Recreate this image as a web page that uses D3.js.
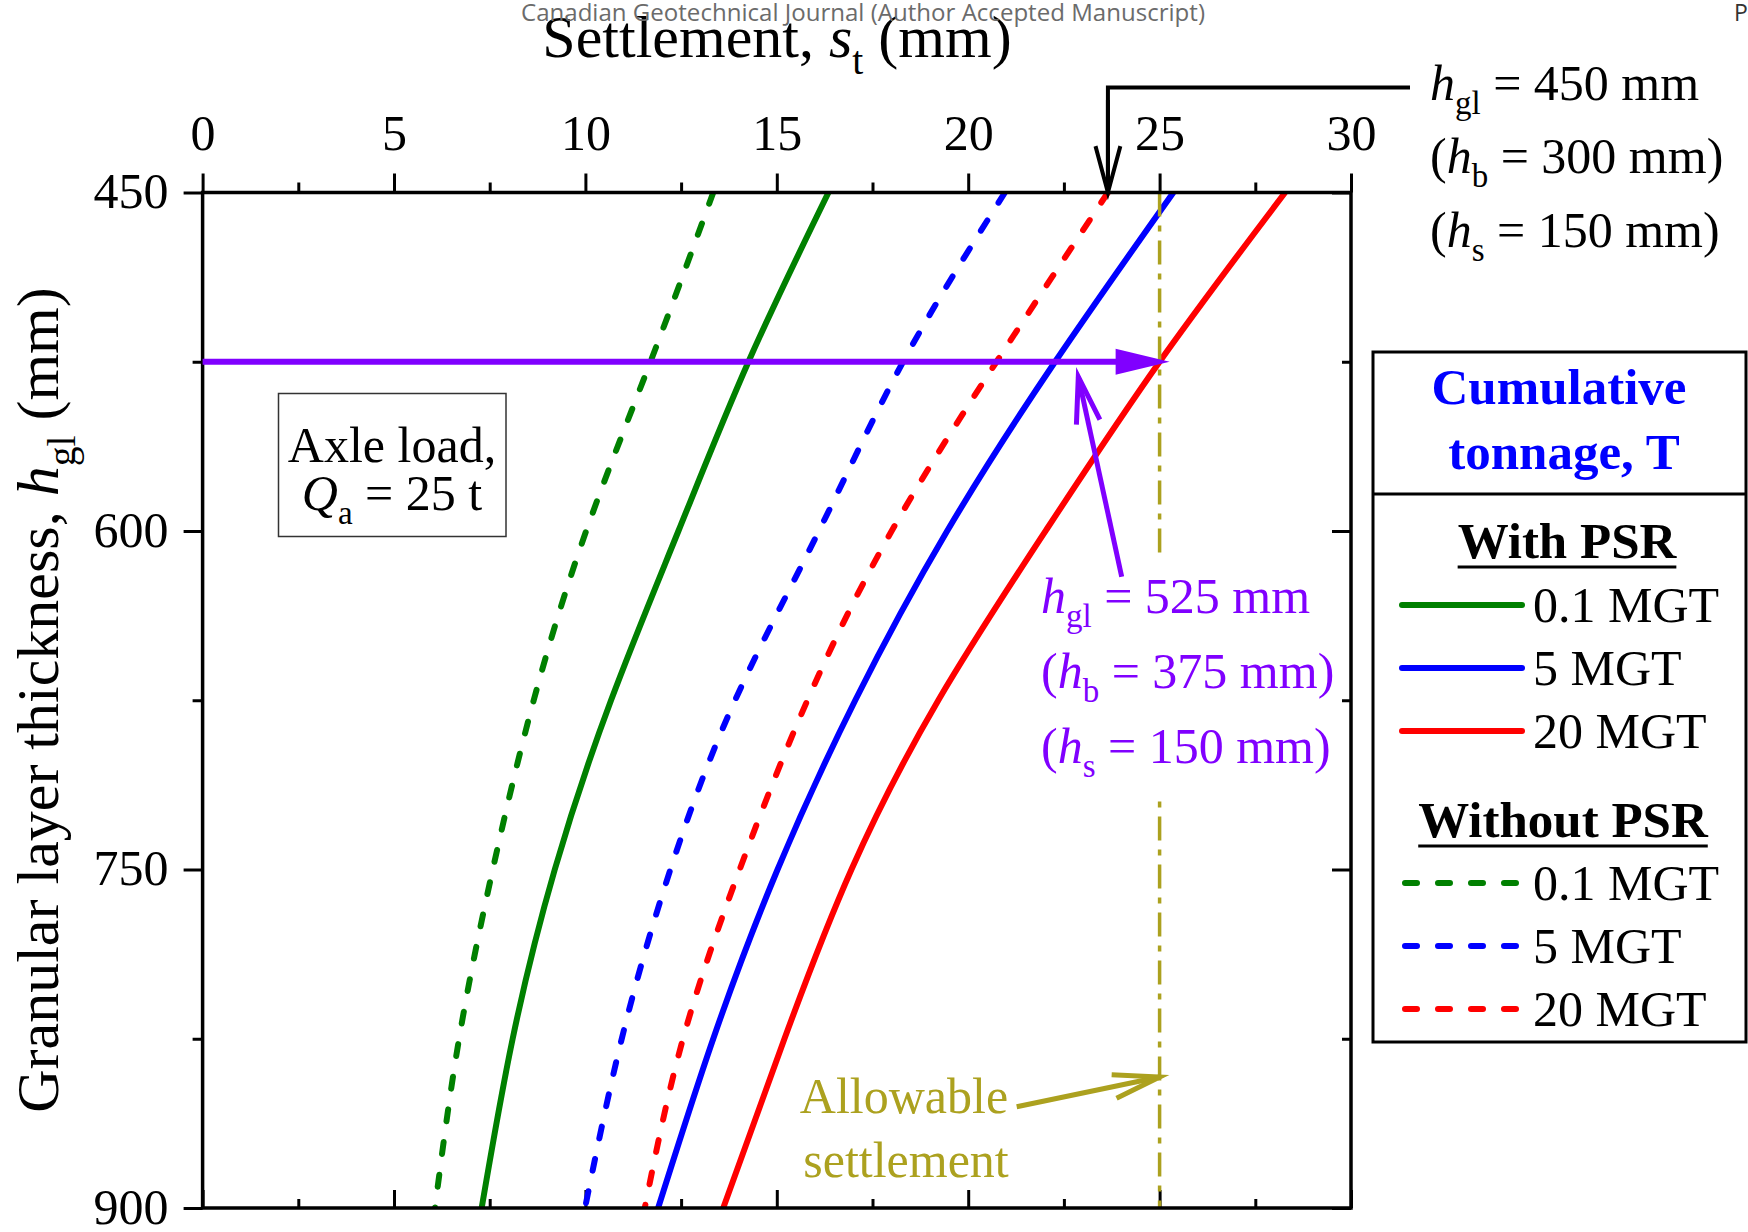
<!DOCTYPE html>
<html>
<head>
<meta charset="utf-8">
<script src="https://cdn.jsdelivr.net/npm/d3@7"></script>
<style>
  html, body { margin: 0; padding: 0; background: #fff; }
  svg { display: block; }
  text { font-family: "Liberation Serif", "Times New Roman", serif; white-space: pre; }
</style>
</head>
<body>
<script>
// Granular layer thickness h_gl (mm) at which settlements are tabulated
const thickness = [450, 525, 600, 675, 750, 825, 900];

// Total settlement s_t (mm) — with PSR
const withPSR01 = [16.35, 14.26, 12.43, 10.67, 9.20, 8.10, 7.29];
const withPSR5  = [25.36, 22.27, 19.45, 17.05, 15.02, 13.34, 11.90];
const withPSR20 = [28.28, 25.00, 22.02, 19.22, 16.95, 15.20, 13.60];

// Total settlement s_t (mm) — without PSR
const withoutPSR01 = [13.34, 11.70, 10.02, 8.65, 7.58, 6.70, 6.07];
const withoutPSR5  = [20.96, 18.30, 16.10, 13.91, 12.22, 10.95, 9.99];
const withoutPSR20 = [23.65, 20.74, 18.00, 15.80, 14.03, 12.55, 11.55];

const tonnageLabels = ["0.1 MGT", "5 MGT", "20 MGT"];

// Axis ticks
const xTicks = [0, 5, 10, 15, 20, 25, 30];
const xMinorTicks = [2.5, 7.5, 12.5, 17.5, 22.5, 27.5];
const yTicks = [450, 600, 750, 900];
const yMinorTicks = [525, 675, 825];

// Design values used by the annotations
const allowableSettlement = 25;     // mm
const designThickness = 525;        // mm
const initialThickness = 450;       // mm
const initialSettlement = 23.65;    // mm, 20 MGT without PSR at 450 mm

const W = 1748, H = 1232;
const plot = { left: 202.6, right: 1351, top: 192.5, bottom: 1208 };

const GREEN = "#008000", BLUE = "#0000ff", RED = "#ff0000";
const PURPLE = "#8000ff", OLIVE = "#aca11f";

const svg = d3.select("body").append("svg").attr("width", W).attr("height", H);

const x = d3.scaleLinear().domain([0, 30]).range([plot.left, plot.right]);
const y = d3.scaleLinear().domain([450, 900]).range([plot.top, plot.bottom]);

// Rich text helper: parts = [{t, i (italic), s (subscript)}]
function rich(g, xPos, yPos, parts, size, opts = {}) {
  const t = g.append("text")
    .attr("x", xPos).attr("y", yPos)
    .attr("font-size", size)
    .attr("fill", opts.fill || "#000")
    .attr("text-anchor", opts.anchor || "start");
  if (opts.transform) t.attr("transform", opts.transform);
  const shift = size * 0.28;
  let down = false;
  parts.forEach(p => {
    const ts = t.append("tspan").text(p.t);
    if (p.i) ts.attr("font-style", "italic");
    if (p.s) {
      ts.attr("font-size", size * 0.66);
      if (!down) { ts.attr("dy", shift); down = true; }
    } else if (down) {
      ts.attr("dy", -shift); down = false;
    }
  });
  return t;
}

// Open arrowhead + shaft from (x1,y1) to tip (x2,y2)
function openArrow(g, x1, y1, x2, y2, color, width, len = 48, angDeg = 14.5) {
  g.append("line")
    .attr("x1", x1).attr("y1", y1).attr("x2", x2).attr("y2", y2)
    .attr("stroke", color).attr("stroke-width", width);
  const a = Math.atan2(y1 - y2, x1 - x2);
  const r = angDeg * Math.PI / 180;
  const w1 = [x2 + len * Math.cos(a + r), y2 + len * Math.sin(a + r)];
  const w2 = [x2 + len * Math.cos(a - r), y2 + len * Math.sin(a - r)];
  g.append("path")
    .attr("d", `M${w1[0]},${w1[1]}L${x2},${y2}L${w2[0]},${w2[1]}`)
    .attr("fill", "none").attr("stroke", color).attr("stroke-width", width)
    .attr("stroke-linejoin", "miter");
}

// Axes
function styleAxis(g, size) {
  g.select(".domain").remove();
  g.attr("font-family", "'Liberation Serif', 'Times New Roman', serif").attr("font-size", size);
  g.selectAll(".tick line").attr("stroke", "#000").attr("stroke-width", 3);
  g.selectAll(".tick text").attr("fill", "#000");
}

const axTop = svg.append("g").attr("transform", `translate(0,${plot.top})`)
  .call(d3.axisTop(x).tickValues(xTicks).tickSize(19).tickPadding(23.5).tickFormat(d3.format("d")));
styleAxis(axTop, 50);
const axTopMinor = svg.append("g").attr("transform", `translate(0,${plot.top})`)
  .call(d3.axisTop(x).tickValues(xMinorTicks).tickSize(10).tickFormat(""));
styleAxis(axTopMinor, 50);

const axBottom = svg.append("g").attr("transform", `translate(0,${plot.bottom})`)
  .call(d3.axisBottom(x).tickValues(xTicks).tickSize(-18).tickFormat(""));
styleAxis(axBottom, 50);
const axBottomMinor = svg.append("g").attr("transform", `translate(0,${plot.bottom})`)
  .call(d3.axisBottom(x).tickValues(xMinorTicks).tickSize(-9).tickFormat(""));
styleAxis(axBottomMinor, 50);

const axLeft = svg.append("g").attr("transform", `translate(${plot.left},0)`)
  .call(d3.axisLeft(y).tickValues(yTicks).tickSize(19).tickPadding(15).tickFormat(d3.format("d")));
styleAxis(axLeft, 50);
axLeft.selectAll(".tick text").attr("dy", "0.3em");
const axLeftMinor = svg.append("g").attr("transform", `translate(${plot.left},0)`)
  .call(d3.axisLeft(y).tickValues(yMinorTicks).tickSize(10).tickFormat(""));
styleAxis(axLeftMinor, 50);

const axRight = svg.append("g").attr("transform", `translate(${plot.right},0)`)
  .call(d3.axisRight(y).tickValues(yTicks).tickSize(-19).tickFormat(""));
styleAxis(axRight, 50);
const axRightMinor = svg.append("g").attr("transform", `translate(${plot.right},0)`)
  .call(d3.axisRight(y).tickValues(yMinorTicks).tickSize(-9).tickFormat(""));
styleAxis(axRightMinor, 50);

// Axis titles
rich(svg, 777, 57, [{ t: "Settlement, " }, { t: "s", i: true }, { t: "t", s: true }, { t: " (mm)" }], 60, { anchor: "middle" });
rich(svg, 0, 0, [{ t: "Granular layer thickness, " }, { t: "h", i: true }, { t: "gl", s: true }, { t: " (mm)" }], 60,
  { anchor: "middle", transform: "translate(58,700) rotate(-90)" });

// Manuscript header line, printed over the page
svg.append("text")
  .attr("x", 521).attr("y", 21)
  .attr("textLength", 684).attr("lengthAdjust", "spacingAndGlyphs")
  .style("font-family", "'Open Sans', 'DejaVu Sans', sans-serif")
  .attr("font-size", 23).attr("fill", "#6b6b6b")
  .text("Canadian Geotechnical Journal (Author Accepted Manuscript)");
svg.append("text")
  .attr("x", 1734).attr("y", 21)
  .style("font-family", "'Open Sans', 'DejaVu Sans', sans-serif")
  .attr("font-size", 23).attr("fill", "#333")
  .text("P");

// Curves
const series = [
  { values: withPSR01, color: GREEN, dashed: false },
  { values: withPSR5, color: BLUE, dashed: false },
  { values: withPSR20, color: RED, dashed: false },
  { values: withoutPSR01, color: GREEN, dashed: true },
  { values: withoutPSR5, color: BLUE, dashed: true },
  { values: withoutPSR20, color: RED, dashed: true }
];

svg.append("clipPath").attr("id", "plotClip").append("rect")
  .attr("x", plot.left).attr("y", plot.top)
  .attr("width", plot.right - plot.left).attr("height", plot.bottom - plot.top);

const line = d3.line()
  .x(d => x(d[1]))
  .y(d => y(d[0]))
  .curve(d3.curveNatural);

const curves = svg.append("g").attr("clip-path", "url(#plotClip)");
series.forEach(s => {
  curves.append("path")
    .attr("d", line(thickness.map((h, i) => [h, s.values[i]])))
    .attr("fill", "none")
    .attr("stroke", s.color)
    .attr("stroke-width", 6)
    .attr("stroke-linecap", s.dashed ? "round" : "butt")
    .attr("stroke-dasharray", s.dashed ? "12,21" : null);
});

// Allowable settlement line (dash-dot)
svg.append("line")
  .attr("x1", x(allowableSettlement)).attr("x2", x(allowableSettlement))
  .attr("y1", y(450)).attr("y2", y(900))
  .attr("stroke", OLIVE).attr("stroke-width", 3.5)
  .attr("stroke-dasharray", "24,9,6,9");
// gap behind the design-thickness note
svg.append("rect")
  .attr("x", x(allowableSettlement) - 5).attr("y", 555)
  .attr("width", 10).attr("height", 240).attr("fill", "#fff");

// Frame
svg.append("rect")
  .attr("x", plot.left).attr("y", plot.top)
  .attr("width", plot.right - plot.left).attr("height", plot.bottom - plot.top)
  .attr("fill", "none").attr("stroke", "#000").attr("stroke-width", 3.5);

// Design-thickness arrow at h_gl = 525 mm
const ay = y(designThickness);
const tipX = x(allowableSettlement) + 10;
svg.append("line")
  .attr("x1", x(0)).attr("x2", tipX - 50).attr("y1", ay).attr("y2", ay)
  .attr("stroke", PURPLE).attr("stroke-width", 6);
svg.append("path")
  .attr("d", `M${tipX - 54},${ay - 13}L${tipX},${ay}L${tipX - 54},${ay + 13}Z`)
  .attr("fill", PURPLE);

// Note for the design thickness
const note = svg.append("g");
rich(note, 1041, 613, [{ t: "h", i: true }, { t: "gl", s: true }, { t: " = 525 mm" }], 50, { fill: PURPLE });
rich(note, 1041, 688, [{ t: "(" }, { t: "h", i: true }, { t: "b", s: true }, { t: " = 375 mm)" }], 50, { fill: PURPLE });
rich(note, 1041, 763, [{ t: "(" }, { t: "h", i: true }, { t: "s", s: true }, { t: " = 150 mm)" }], 50, { fill: PURPLE });
openArrow(svg, 1121.7, 576.7, 1078.3, 376.7, PURPLE, 5);

// Initial-thickness arrow at h_gl = 450 mm
const ix = x(initialSettlement);
svg.append("path")
  .attr("d", `M1410,87.5L${ix},87.5L${ix},${y(initialThickness)}`)
  .attr("fill", "none").attr("stroke", "#000").attr("stroke-width", 4)
  .attr("stroke-linejoin", "miter");
openArrow(svg, ix, 100, ix, y(initialThickness), "#000", 4, 48, 15);
rich(svg, 1430, 100, [{ t: "h", i: true }, { t: "gl", s: true }, { t: " = 450 mm" }], 50);
rich(svg, 1430, 173, [{ t: "(" }, { t: "h", i: true }, { t: "b", s: true }, { t: " = 300 mm)" }], 50);
rich(svg, 1430, 247, [{ t: "(" }, { t: "h", i: true }, { t: "s", s: true }, { t: " = 150 mm)" }], 50);

// Allowable settlement note
svg.append("text").attr("x", 904).attr("y", 1113).attr("text-anchor", "middle")
  .attr("font-size", 50).attr("fill", OLIVE).text("Allowable");
svg.append("text").attr("x", 906).attr("y", 1177).attr("text-anchor", "middle")
  .attr("font-size", 50).attr("fill", OLIVE).text("settlement");
openArrow(svg, 1016.7, 1106.7, x(allowableSettlement), 1077, OLIVE, 5);

// Axle load box
svg.append("rect").attr("x", 278.5).attr("y", 393.5).attr("width", 227.5).attr("height", 143)
  .attr("fill", "#fff").attr("stroke", "#333").attr("stroke-width", 1.5);
svg.append("text").attr("x", 392).attr("y", 462).attr("text-anchor", "middle")
  .attr("font-size", 50).text("Axle load,");
rich(svg, 392, 510, [{ t: "Q", i: true }, { t: "a", s: true }, { t: " = 25 t" }], 50, { anchor: "middle" });

// Legend
const lg = svg.append("g");
lg.append("rect").attr("x", 1373).attr("y", 352).attr("width", 373).attr("height", 690)
  .attr("fill", "#fff").attr("stroke", "#000").attr("stroke-width", 3);
lg.append("line").attr("x1", 1373).attr("x2", 1746).attr("y1", 494).attr("y2", 494)
  .attr("stroke", "#000").attr("stroke-width", 3);
lg.append("text").attr("x", 1559).attr("y", 404).attr("text-anchor", "middle")
  .attr("font-size", 51).attr("font-weight", "bold").attr("fill", BLUE).text("Cumulative");
lg.append("text").attr("x", 1564).attr("y", 469).attr("text-anchor", "middle")
  .attr("font-size", 51).attr("font-weight", "bold").attr("fill", BLUE).text("tonnage, T");

function heading(label, cx, by) {
  const t = lg.append("text").attr("x", cx).attr("y", by).attr("text-anchor", "middle")
    .attr("font-size", 51).attr("font-weight", "bold").text(label);
  const w = t.node().getComputedTextLength();
  lg.append("line").attr("x1", cx - w / 2).attr("x2", cx + w / 2)
    .attr("y1", by + 9).attr("y2", by + 9).attr("stroke", "#000").attr("stroke-width", 3);
}
heading("With PSR", 1567, 558);
heading("Without PSR", 1563, 837);

const rowsWith = [605, 668, 731];
const rowsWithout = [883, 946, 1009];
[[series.slice(0, 3), rowsWith], [series.slice(3), rowsWithout]].forEach(([group, rows]) => {
  group.forEach((s, i) => {
    lg.append("line").attr("x1", s.dashed ? 1405 : 1402).attr("x2", 1522)
      .attr("y1", rows[i]).attr("y2", rows[i])
      .attr("stroke", s.color).attr("stroke-width", 6)
      .attr("stroke-linecap", "round")
      .attr("stroke-dasharray", s.dashed ? "12,21" : null);
    lg.append("text").attr("x", 1533).attr("y", rows[i] + 17)
      .attr("font-size", 50).text(tonnageLabels[i]);
  });
});
</script>
</body>
</html>
